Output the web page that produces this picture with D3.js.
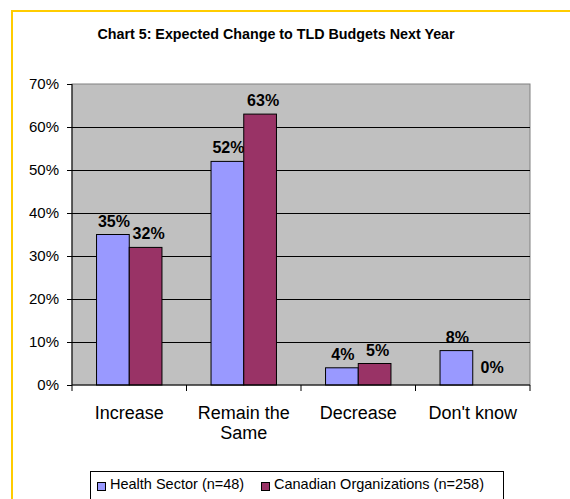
<!DOCTYPE html>
<html>
<head>
<meta charset="utf-8">
<script src="https://cdn.jsdelivr.net/npm/d3@7"></script>
<style>
  html, body { margin: 0; padding: 0; background: #fff; }
  svg { display: block; font-family: "Liberation Sans", Arial, sans-serif; }
</style>
</head>
<body>
<svg id="chart" width="570" height="499"></svg>
<script>
const title = "Chart 5: Expected Change to TLD Budgets Next Year";
const categories = ["Increase", "Remain the Same", "Decrease", "Don't know"];
const categoryLines = [["Increase"], ["Remain the", "Same"], ["Decrease"], ["Don't know"]];
const seriesNames = ["Health Sector (n=48)", "Canadian Organizations (n=258)"];
const healthSector = [0.35, 0.52, 0.04, 0.08];
const canadianOrgs = [0.32, 0.63, 0.05, 0.00];
const seriesColors = ["#9999FF", "#993366"];
const yTicks = [0, 0.1, 0.2, 0.3, 0.4, 0.5, 0.6, 0.7];

const seriesValues = [healthSector, canadianOrgs];

const svg = d3.select("#chart");
const W = 570, H = 499;
const plot = { left: 72, right: 530, top: 84, bottom: 385 };

svg.append("rect").attr("width", W).attr("height", H).attr("fill", "#fff");

// Yellow outer chart border (extends beyond the visible frame)
svg.append("rect")
  .attr("x", 12).attr("y", 11)
  .attr("width", 700).attr("height", 700)
  .attr("fill", "none").attr("stroke", "#FFCC00").attr("stroke-width", 2);

// Title
svg.append("text")
  .attr("x", 276).attr("y", 38.5)
  .attr("text-anchor", "middle")
  .attr("font-size", "14.3px").attr("font-weight", "bold")
  .attr("fill", "#000")
  .text(title);

const y = d3.scaleLinear().domain([0, 0.7]).range([plot.bottom, plot.top]);
const x0 = d3.scaleBand().domain(categories).range([plot.left, plot.right]).padding(0);
const x1 = d3.scaleBand().domain(seriesNames).range([0, x0.bandwidth()])
  .paddingInner(0).paddingOuter(0.75);

// Plot background
svg.append("rect")
  .attr("x", plot.left).attr("y", plot.top)
  .attr("width", plot.right - plot.left).attr("height", plot.bottom - plot.top)
  .attr("fill", "#C0C0C0").attr("stroke", "#808080").attr("stroke-width", 1);

// Gridlines
const grid = svg.append("g")
  .attr("transform", `translate(${plot.left},0)`)
  .call(d3.axisLeft(y).tickValues(yTicks.slice(1, -1)).tickSize(-(plot.right - plot.left)).tickFormat(""));
grid.select(".domain").remove();
grid.selectAll("line").attr("stroke", "#000").attr("stroke-width", 1);

// Y axis
const yAxis = svg.append("g")
  .attr("transform", `translate(${plot.left},0)`)
  .call(d3.axisLeft(y).tickValues(yTicks).tickSize(5).tickPadding(8).tickFormat(d3.format(".0%")));
yAxis.select(".domain").attr("stroke", "#000").attr("d", `M0,${plot.top}V${plot.bottom}`);
yAxis.selectAll("line").attr("stroke", "#000");
yAxis.selectAll("text").attr("font-size", "15px").attr("fill", "#000")
  .attr("font-family", "Liberation Sans, Arial, sans-serif");

// Bars
const groups = svg.append("g").selectAll("g")
  .data(categories)
  .join("g")
  .attr("transform", d => `translate(${x0(d)},0)`);

groups.each(function(cat, ci) {
  const g = d3.select(this);
  seriesNames.forEach((s, si) => {
    const v = seriesValues[si][ci];
    if (v > 0) {
      g.append("rect")
        .attr("x", x1(s)).attr("y", y(v))
        .attr("width", x1.bandwidth()).attr("height", y(0) - y(v))
        .attr("fill", seriesColors[si])
        .attr("stroke", "#000").attr("stroke-width", 1);
    }
    g.append("text")
      .attr("x", x1(s) + x1.bandwidth() / 2 + (si === 1 ? 3 : 1))
      .attr("y", y(v) - (v === 0 ? 12 : 8))
      .attr("text-anchor", "middle")
      .attr("font-size", "16px").attr("font-weight", "bold")
      .attr("fill", "#000")
      .text(d3.format(".0%")(v));
  });
});

// X axis line and boundary ticks
svg.append("line")
  .attr("x1", plot.left).attr("x2", plot.right)
  .attr("y1", plot.bottom).attr("y2", plot.bottom)
  .attr("stroke", "#000");
const boundaries = categories.map(c => x0(c)).concat([x0(categories[categories.length - 1]) + x0.bandwidth()]);
svg.append("g").selectAll("line")
  .data(boundaries)
  .join("line")
  .attr("x1", d => d).attr("x2", d => d)
  .attr("y1", plot.bottom).attr("y2", plot.bottom + 6)
  .attr("stroke", "#000");

// Category labels
categories.forEach((c, i) => {
  const t = svg.append("text")
    .attr("x", x0(c) + x0.bandwidth() / 2)
    .attr("y", 419)
    .attr("text-anchor", "middle")
    .attr("font-size", "18px")
    .attr("fill", "#000");
  categoryLines[i].forEach((line, li) => {
    t.append("tspan")
      .attr("x", x0(c) + x0.bandwidth() / 2)
      .attr("dy", li === 0 ? 0 : 20)
      .text(line);
  });
});

// Legend
const legend = svg.append("g");
legend.append("rect")
  .attr("x", 90.5).attr("y", 471.5)
  .attr("width", 413).attr("height", 60)
  .attr("fill", "#fff").attr("stroke", "#000").attr("stroke-width", 1);
const legendX = [97, 261];
seriesNames.forEach((s, i) => {
  legend.append("rect")
    .attr("x", legendX[i] + 0.5).attr("y", 482.5)
    .attr("width", 8).attr("height", 8)
    .attr("fill", seriesColors[i]).attr("stroke", "#000").attr("stroke-width", 1);
  legend.append("text")
    .attr("x", legendX[i] + 13).attr("y", 489)
    .attr("font-size", "14.5px").attr("fill", "#000")
    .text(s);
});
</script>
</body>
</html>
